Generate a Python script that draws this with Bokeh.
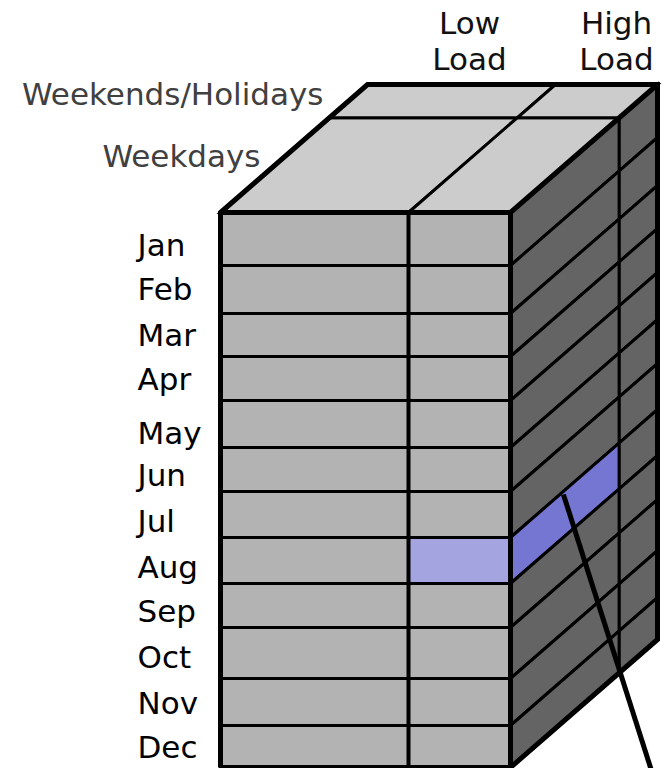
from bokeh.plotting import figure
from bokeh.models import Range1d
from bokeh.core.properties import value
from bokeh.embed import file_html
from bokeh.resources import INLINE

# ---- data ----
months = ["Jan", "Feb", "Mar", "Apr", "May", "Jun",
          "Jul", "Aug", "Sep", "Oct", "Nov", "Dec"]
loads = ["Low Load", "High Load"]
day_types = ["Weekdays", "Weekends/Holidays"]
highlight = ("Aug", "High Load", "Weekdays")

# ---- layout (screen pixels of the picture) ----
ROW_EDGES = [212, 265, 313, 356, 400, 447, 491, 537, 583, 627, 678, 725, 767]
LABEL_Y = [244, 288, 334, 378, 432, 474, 520, 566, 610, 656, 702, 746]
X_LEFT = 220
LOAD_WIDTHS = [188, 102]           # front widths of the load columns
DEPTH_DX, DEPTH_DY = 147, 128      # projection of full depth
DEPTH_SPLIT = [0.0, 0.74, 1.0]     # weekdays | weekends along depth

C_FRONT = "#b3b3b3"
C_TOP = "#cccccc"
C_SIDE = "#646464"
C_HI_FRONT = "#a4a4e1"
C_HI_SIDE = "#7575d2"
FONT = value("DejaVu Sans")
FS = "31px"

load_edges = [X_LEFT]
for w in LOAD_WIDTHS:
    load_edges.append(load_edges[-1] + w)
X_RIGHT = load_edges[-1]
Y_TOP = ROW_EDGES[0]
Y_BOT = ROW_EDGES[-1]


def P(x, y, z):
    """front-face screen point (x, y) pushed back by depth fraction z"""
    return x + z * DEPTH_DX, y - z * DEPTH_DY


def poly(pts):
    return [q[0] for q in pts], [q[1] for q in pts]


p = figure(width=664, height=768, output_backend="svg", toolbar_location=None,
           x_range=Range1d(0, 664), y_range=Range1d(768, 0),
           x_axis_location=None, y_axis_location=None, min_border=0)
p.grid.visible = False
p.outline_line_color = None
p.background_fill_color = "white"
p.border_fill_color = "white"

# top face cells
xs, ys = [], []
for i in range(len(loads)):
    for k in range(len(day_types)):
        z0, z1 = DEPTH_SPLIT[k], DEPTH_SPLIT[k + 1]
        a, b = load_edges[i], load_edges[i + 1]
        x, y = poly([P(a, Y_TOP, z0), P(b, Y_TOP, z0), P(b, Y_TOP, z1), P(a, Y_TOP, z1)])
        xs.append(x); ys.append(y)
p.patches(xs, ys, fill_color=C_TOP, line_color="black", line_width=3, line_join="miter")

# front face cells
xs, ys, cols = [], [], []
for r, m in enumerate(months):
    for i, ld in enumerate(loads):
        a, b = load_edges[i], load_edges[i + 1]
        t, u = ROW_EDGES[r], ROW_EDGES[r + 1]
        xs.append([a, b, b, a]); ys.append([t, t, u, u])
        hi = (m == highlight[0] and ld == highlight[1])
        cols.append(C_HI_FRONT if hi else C_FRONT)
p.patches(xs, ys, fill_color=cols, line_color="black", line_width=3, line_join="miter")

# right side face cells
xs, ys, cols = [], [], []
for r, m in enumerate(months):
    for k, dt in enumerate(day_types):
        z0, z1 = DEPTH_SPLIT[k], DEPTH_SPLIT[k + 1]
        t, u = ROW_EDGES[r], ROW_EDGES[r + 1]
        x, y = poly([P(X_RIGHT, t, z0), P(X_RIGHT, t, z1), P(X_RIGHT, u, z1), P(X_RIGHT, u, z0)])
        xs.append(x); ys.append(y)
        hi = (m == highlight[0] and dt == highlight[2])
        cols.append(C_HI_SIDE if hi else C_SIDE)
p.patches(xs, ys, fill_color=cols, line_color="black", line_width=3, line_join="miter")

# front vertical divider between loads
p.line([load_edges[1], load_edges[1]], [Y_TOP, Y_BOT], line_color="black", line_width=4)

# outer edges
outline = [P(X_LEFT, Y_BOT, 0), P(X_LEFT, Y_TOP, 0), P(X_LEFT, Y_TOP, 1),
           P(X_RIGHT, Y_TOP, 1), P(X_RIGHT, Y_BOT, 1), P(X_RIGHT, Y_BOT, 0),
           P(X_LEFT, Y_BOT, 0)]
x, y = poly(outline)
p.line(x, y, line_color="black", line_width=5, line_join="miter")
x, y = poly([P(X_LEFT, Y_TOP, 0), P(X_RIGHT, Y_TOP, 0), P(X_RIGHT, Y_TOP, 1)])
p.line(x, y, line_color="black", line_width=5, line_join="miter")
x, y = poly([P(X_RIGHT, Y_TOP, 0), P(X_RIGHT, Y_BOT, 0)])
p.line(x, y, line_color="black", line_width=5)

# pointer line from the highlighted side cell
r = months.index(highlight[0])
sx, sy = P(X_RIGHT, ROW_EDGES[r] + 3, 0.36)
p.line([sx, sx + 88], [sy, sy + 276], line_color="black", line_width=5)

# month labels
p.text(x=[137] * len(months), y=LABEL_Y, text=months,
       text_font=FONT, text_font_size=FS, text_color="black",
       text_align="left", text_baseline="middle")

# depth labels
p.text(x=[323, 260], y=[93, 155], text=[day_types[1], day_types[0]],
       text_font=FONT, text_font_size=FS, text_color="#404040",
       text_align="right", text_baseline="middle")

# load labels (two lines each)
lx, ly, lt = [], [], []
for i, ld in enumerate(loads):
    bx0, _ = P(load_edges[i], Y_TOP, 1)
    bx1, _ = P(load_edges[i + 1], Y_TOP, 1)
    cx = (bx0 + bx1) / 2 + (8 if i == 0 else 10)
    w1, w2 = ld.split(" ")
    lx += [cx, cx]; ly += [22, 58]; lt += [w1, w2]
p.text(x=lx, y=ly, text=lt, text_font=FONT, text_font_size=FS,
       text_color="#111111", text_align="center", text_baseline="middle")

open("out.html", "w").write(file_html(p, INLINE))
